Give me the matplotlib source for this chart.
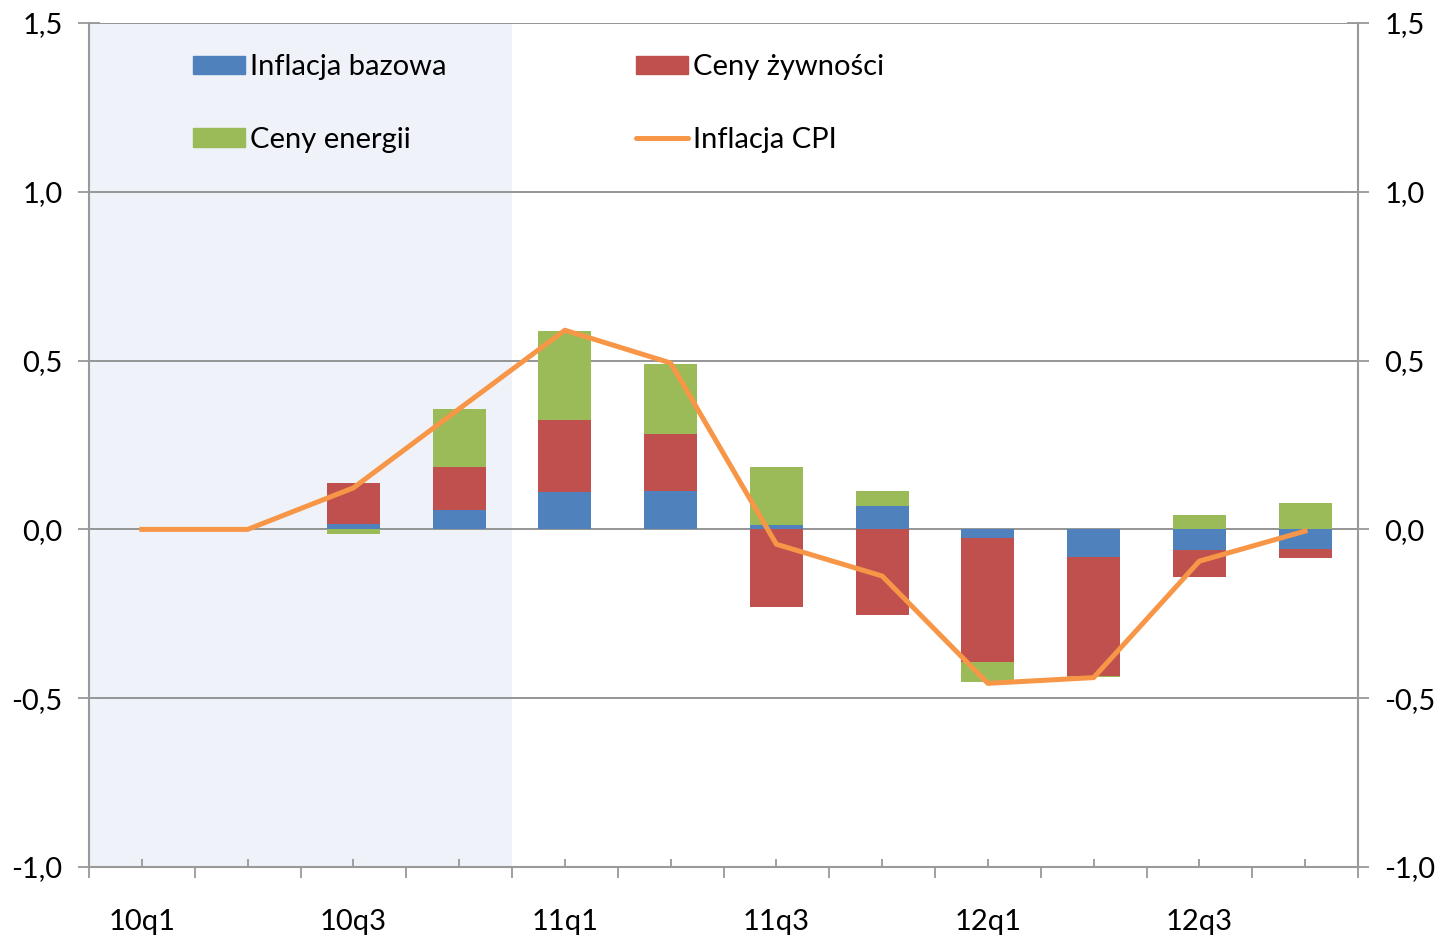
import numpy as np
from matplotlib import pyplot as plt
from matplotlib.lines import Line2D
from matplotlib.patches import Patch

plt.rcParams['font.family'] = ['Lato', 'DejaVu Sans']

quarters = ['10q1', '10q2', '10q3', '10q4', '11q1', '11q2',
            '11q3', '11q4', '12q1', '12q2', '12q3', '12q4']
bazowa = [0, 0, 0.016, 0.058, 0.112, 0.114, 0.012, 0.069, -0.026, -0.081, -0.062, -0.059]
zywnosc = [0, 0, 0.122, 0.128, 0.211, 0.169, -0.229, -0.254, -0.367, -0.353, -0.078, -0.025]
energia = [0, 0, -0.013, 0.171, 0.264, 0.207, 0.174, 0.046, -0.059, -0.003, 0.044, 0.077]
cpi = [0, 0, 0.123, 0.357, 0.59, 0.493, -0.044, -0.138, -0.456, -0.439, -0.094, -0.005]

c_blue = '#4F81BD'
c_red = '#C0504D'
c_green = '#9BBB59'
c_orange = '#F79646'
c_grid = '#8C8C8C'
fs = 21

fig = plt.figure(figsize=(14.41, 9.36), dpi=100)
ax = fig.add_axes([89/1441, 69/936, 1269/1441, 844/936])

x = np.arange(len(quarters))
pos = np.zeros(len(x))
neg = np.zeros(len(x))
for vals, col in [(bazowa, c_blue), (zywnosc, c_red), (energia, c_green)]:
    v = np.array(vals)
    bottom = np.where(v >= 0, pos, neg)
    ax.bar(x, v, 0.5, bottom=bottom, color=col, zorder=2, edgecolor='none')
    pos = pos + np.where(v >= 0, v, 0)
    neg = neg + np.where(v < 0, v, 0)

ax.plot(x, cpi, color=c_orange, lw=3.6, zorder=3)

ax.axvspan(-0.5, 3.5, color='#EFF3F9', zorder=0, lw=0)

ax.set_xlim(-0.5, 11.5)
ax.set_ylim(-1.0, 1.5)
yt = [-1.0, -0.5, 0.0, 0.5, 1.0, 1.5]
ylabels = [('%.1f' % t).replace('.', ',') for t in yt]
ax.set_yticks(yt)
ax.set_yticklabels(ylabels)
ax.yaxis.grid(True, color=c_grid, lw=1.3, zorder=1)
ax.set_axisbelow(True)

ax.set_xticks(np.arange(-0.5, 12, 1.0))
ax.set_xticklabels([])
ax.set_xticks(x, minor=True)
ax.set_xticklabels([q if i % 2 == 0 else '' for i, q in enumerate(quarters)], minor=True)

ax.spines['top'].set_visible(False)
for s in ['left', 'right', 'bottom']:
    ax.spines[s].set_color('#999999')
    ax.spines[s].set_linewidth(1.5)

ax.tick_params(axis='x', which='major', direction='out', length=8, width=1.3, color='#999999')
ax.tick_params(axis='x', which='minor', direction='in', length=6, width=1.3, color='#999999',
               labelsize=fs, pad=30)
ax.tick_params(axis='y', direction='inout', length=16, width=1.3, color='#999999',
               labelsize=fs, pad=11)

ax2 = ax.twinx()
ax2.set_ylim(ax.get_ylim())
ax2.set_yticks(yt)
ax2.set_yticklabels(ylabels)
ax2.tick_params(axis='y', direction='inout', length=16, width=1.3, color='#999999',
                labelsize=fs, pad=11)
for s in ax2.spines.values():
    s.set_visible(False)

handles = [Patch(color=c_blue), Patch(color=c_green),
           Patch(color=c_red), Line2D([0], [0], color=c_orange, lw=3.6, solid_capstyle='round')]
labels = ['Inflacja bazowa', 'Ceny energii', 'Ceny żywności', 'Inflacja CPI']
ax.legend(handles, labels, ncol=2, loc='upper left', bbox_to_anchor=(0.0728, 0.977),
          frameon=False, fontsize=fs, handlelength=1.78, handleheight=0.58,
          handletextpad=0.18, columnspacing=6.5, labelspacing=1.6, borderaxespad=0)

fig.savefig('out.png', dpi=100)
